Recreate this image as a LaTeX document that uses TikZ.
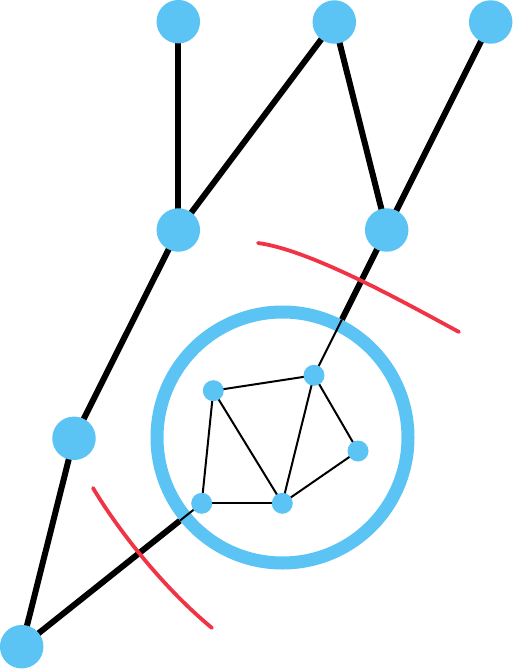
\documentclass[tikz,border=0pt]{standalone}
\usetikzlibrary{calc}
\definecolor{nodeblue}{RGB}{91,196,245}
\definecolor{cutred}{RGB}{240,52,70}
\tikzset{
  bignode/.style={circle,fill=nodeblue,inner sep=0pt,minimum size=43.5pt},
  smallnode/.style={circle,fill=nodeblue,inner sep=0pt,minimum size=21pt},
  thickedge/.style={line width=6pt,black},
  thinedge/.style={line width=2pt,black},
  ring/.style={line width=13pt,draw=nodeblue},
  cut/.style={line width=3.8pt,cutred,line cap=round}
}
\begin{document}
\begin{tikzpicture}[x=1pt,y=-1pt]
\useasboundingbox (0,0) rectangle (513,669);
% coordinates
\coordinate (A) at (178.3,21.7);
\coordinate (B) at (334.3,22);
\coordinate (C) at (490.7,22);
\coordinate (D) at (178.3,230);
\coordinate (E) at (386.7,230);
\coordinate (F) at (74,438.3);
\coordinate (G) at (21.7,646.7);
\coordinate (s1) at (213.3,390.7);
\coordinate (s2) at (314,375.3);
\coordinate (s3) at (358,451);
\coordinate (s4) at (201.7,503.3);
\coordinate (s5) at (282.3,503.3);
\coordinate (O) at (282.5,437.5);
\coordinate (e1) at ($(E)!0.6167!(s2)$);
\coordinate (g1) at ($(G)!0.8792!(s4)$);
% thick edges
\draw[thickedge] (A) -- (D);
\draw[thickedge] (B) -- (D);
\draw[thickedge] (B) -- (E);
\draw[thickedge] (C) -- (E);
\draw[thickedge] (D) -- (F);
\draw[thickedge] (F) -- (G);
\draw[thickedge] (E) -- (e1);
\draw[thickedge] (G) -- (g1);
% ring
\draw[ring] (O) circle (125.5);
% thin edges
\draw[thinedge] (e1) -- (s2);
\draw[thinedge] (g1) -- (s4);
\draw[thinedge] (s1) -- (s2);
\draw[thinedge] (s1) -- (s4);
\draw[thinedge] (s1) -- (s5);
\draw[thinedge] (s2) -- (s5);
\draw[thinedge] (s2) -- (s3);
\draw[thinedge] (s3) -- (s5);
\draw[thinedge] (s4) -- (s5);
% red cuts
\draw[cut] (258,243) .. controls (310,250) and (400,300) .. (459,332);
\draw[cut] (93,488) .. controls (115,525) and (160,585) .. (212,628);
% nodes
\node[bignode] (nA) at (A) {};
\node[bignode] (nB) at (B) {};
\node[bignode] (nC) at (C) {};
\node[bignode] (nD) at (D) {};
\node[bignode] (nE) at (E) {};
\node[bignode] (nF) at (F) {};
\node[bignode] (nG) at (G) {};
\node[smallnode] (n1) at (s1) {};
\node[smallnode] (n2) at (s2) {};
\node[smallnode] (n3) at (s3) {};
\node[smallnode] (n4) at (s4) {};
\node[smallnode] (n5) at (s5) {};
\end{tikzpicture}
\end{document}
